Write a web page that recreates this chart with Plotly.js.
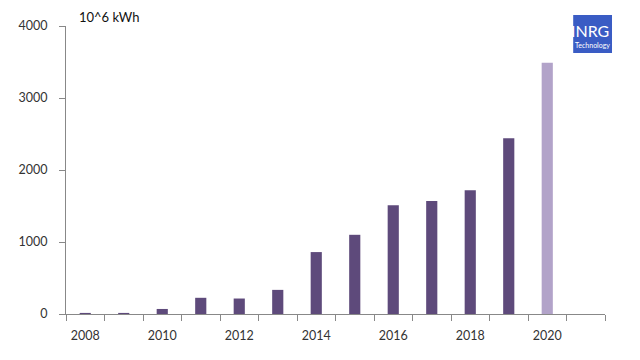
<!DOCTYPE html>
<html><head><meta charset="utf-8">
<script src="https://cdn.plot.ly/plotly-3.0.1.min.js"></script>
<style>html,body{margin:0;padding:0;background:#fff}#c{width:640px;height:360px}</style>
</head><body><div id="c"></div>
<script>
const years = ['2008','2009','2010','2011','2012','2013','2014','2015','2016','2017','2018','2019','2020','2021'];
const values = [15, 15, 70, 225, 215, 335, 860, 1100, 1510, 1570, 1720, 2440, 3490, null];
const barColors = ['#5e4a7b','#5e4a7b','#5e4a7b','#5e4a7b','#5e4a7b','#5e4a7b','#5e4a7b','#5e4a7b','#5e4a7b','#5e4a7b','#5e4a7b','#5e4a7b','#b2a3c9','#5e4a7b'];
const xTickText = ['2008','','2010','','2012','','2014','','2016','','2018','','2020',''];
const yTicks = [0, 1000, 2000, 3000, 4000];
const unitLabel = '10^6 kWh';

const font = {family: 'Lato, "Open Sans", sans-serif', size: 12, color: '#333'};
Plotly.newPlot('c', [{
  type: 'bar', x: years, y: values,
  marker: {color: barColors}, hoverinfo: 'none'
}], {
  width: 640, height: 360,
  margin: {l: 66, r: 35, t: 26, b: 46},
  paper_bgcolor: '#fff', plot_bgcolor: '#fff',
  bargap: 0.71, showlegend: false, font: font,
  xaxis: {type: 'category', tickmode: 'array', tickvals: years, ticktext: xTickText,
    tickson: 'boundaries', ticks: 'outside', ticklen: 6, tickcolor: '#888',
    showline: true, linecolor: '#888', linewidth: 1, showgrid: false, zeroline: false,
    ticklabelstandoff: 10,
    tickfont: {family: font.family, size: 12.5, color: '#333'}},
  yaxis: {range: [0, 4000], tickmode: 'array', tickvals: yTicks, ticks: 'outside', ticklen: 6,
    tickcolor: '#888', showline: true, linecolor: '#888', linewidth: 1, showgrid: false,
    zeroline: false, ticklabelstandoff: 9, tickfont: {family: font.family, size: 12.5, color: '#333'}},
  shapes: [{type: 'rect', xref: 'paper', yref: 'paper', x0: 0.941, x1: 1.013, y0: 0.906, y1: 1.038,
    fillcolor: '#3a5cc4', line: {width: 0}, layer: 'above'}],
  annotations: [
    {text: unitLabel, xref: 'paper', yref: 'paper', x: 0.02, y: 1.03, xanchor: 'left', yanchor: 'middle',
      showarrow: false, font: {family: font.family, size: 13, color: '#111'}},
    {text: 'INRG', xref: 'paper', yref: 'paper', x: 0.972, y: 0.985, xanchor: 'center', yanchor: 'middle',
      showarrow: false, font: {family: font.family, size: 16, color: '#fff'}},
    {text: 'Technology', xref: 'paper', yref: 'paper', x: 0.977, y: 0.935, xanchor: 'center', yanchor: 'middle',
      showarrow: false, font: {family: font.family, size: 7, color: '#fff'}}
  ]
}, {staticPlot: true});
</script></body></html>
